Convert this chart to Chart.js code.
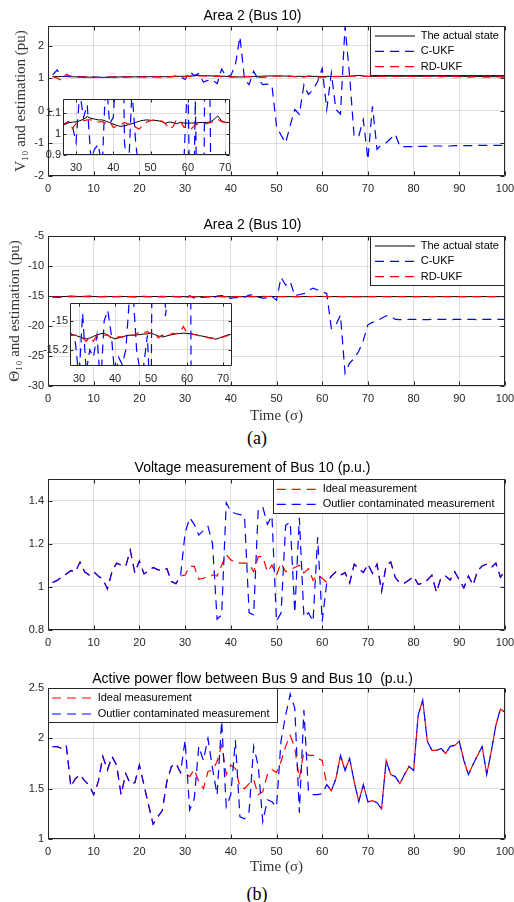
<!DOCTYPE html>
<html>
<head>
<meta charset="utf-8">
<script src="https://cdn.jsdelivr.net/npm/chart.js@4.4.1/dist/chart.umd.min.js"></script>
<style>
html, body { margin: 0; padding: 0; background: #fff; overflow: hidden; }
#page { position: relative; width: 514px; height: 902px; }
canvas { position: absolute; }
.cap { position: absolute; left: 0; width: 514px; text-align: center; font-family: "Liberation Serif", "Times New Roman", serif; font-size: 18px; line-height: 22px; color: #000; }
</style>
</head>
<body>
<div id="page">
  <canvas id="c1" width="514" height="200" style="left:0;top:0"></canvas>
  <canvas id="c2" width="514" height="226" style="left:0;top:200px"></canvas>
  <canvas id="c3" width="514" height="200" style="left:0;top:452px"></canvas>
  <canvas id="c4" width="514" height="222" style="left:0;top:655px"></canvas>
  <canvas id="i1" width="198" height="80" style="left:38px;top:95px"></canvas>
  <canvas id="i2" width="198" height="87" style="left:40px;top:299px"></canvas>
  <div class="cap" style="top:427px">(a)</div>
  <div class="cap" style="top:883px">(b)</div>
</div>
<script>
// time steps 1..100
var time = Array.from({ length: 100 }, (_, i) => i + 1);

var xTicks = [0, 10, 20, 30, 40, 50, 60, 70, 80, 90, 100];
var insetXTicks = [30, 40, 50, 60, 70];
var vTicks = [-2, -1, 0, 1, 2];
var thetaTicks = [-30, -25, -20, -15, -10, -5];
var vMeasTicks = [0.8, 1, 1.2, 1.4];
var pTicks = [1, 1.5, 2, 2.5];
var vInsetTicks = [0.9, 1, 1.1];
var thetaInsetTicks = [-15.2, -15];

// (a) top: voltage magnitude of bus 10
var vActual = [1.05, 1.05, 1.05, 1.05, 1.045, 1.04, 1.04, 1.035, 1.03, 1.03,
  1.03, 1.025, 1.03, 1.03, 1.035, 1.04, 1.04, 1.045, 1.04, 1.045,
  1.05, 1.045, 1.045, 1.04, 1.045, 1.045, 1.046, 1.054, 1.057, 1.059,
  1.064, 1.071, 1.084, 1.075, 1.072, 1.068, 1.068, 1.062, 1.055, 1.048,
  1.041, 1.037, 1.04, 1.045, 1.05, 1.056, 1.062, 1.066, 1.068, 1.066,
  1.066, 1.064, 1.06, 1.052, 1.058, 1.055, 1.05, 1.056, 1.053, 1.052,
  1.053, 1.053, 1.055, 1.056, 1.056, 1.058, 1.07, 1.087, 1.065, 1.056,
  1.056, 1.056, 1.058, 1.06, 1.062, 1.06, 1.058, 1.06, 1.062, 1.06,
  1.058, 1.056, 1.058, 1.06, 1.062, 1.06, 1.058, 1.056, 1.055, 1.054,
  1.055, 1.056, 1.054, 1.052, 1.05, 1.05, 1.048, 1.046, 1.045, 1.044];
var vCUKF = [1.1, 1.25, 1.05, 1.06, 1.05, 1.045, 1.04, 1.035, 1.03, 1.03,
  1.025, 1.03, 1.03, 1.035, 1.04, 1.045, 1.04, 1.045, 1.05, 1.045,
  1.04, 1.045, 1.05, 1.045, 1.04, 1.05, 1.05, 1.06, 1.04, 0.96,
  1.2, 1.08, 1.14, 0.88, 0.93, 0.95, 0.83, 1.28, 1.05, 1.08,
  1.4, 2.27, 0.96, 0.8, 1.21, 0.96, 0.8, 0.82, 0.78, -0.47,
  -0.75, -0.98, -0.45, 0.04, -0.11, 0.8, 0.5, 0.65, 0.9, 1.3,
  0.04, 1.16, 0.04, -0.1, 2.6, 1.06, -0.8, -0.77, -0.27, -1.5,
  0.14, -1.18, -1.03, -0.98, -0.85, -0.72, -1.1, -1.1, -1.1, -1.1,
  -1.09, -1.09, -1.09, -1.08, -1.08, -1.08, -1.08, -1.08, -1.07, -1.07,
  -1.07, -1.07, -1.07, -1.06, -1.06, -1.06, -1.06, -1.06, -1.06, -1.07];
var vRDUKF = [1.05, 1.0, 0.93, 1.12, 1.06, 1.04, 1.035, 1.03, 1.03, 1.025,
  1.02, 1.02, 1.03, 1.025, 1.03, 1.035, 1.04, 1.04, 1.045, 1.04,
  1.04, 1.035, 1.04, 1.045, 1.04, 1.04, 1.05, 1.06, 1.027, 1.05,
  1.06, 1.064, 1.068, 1.068, 1.058, 1.058, 1.06, 1.05, 1.062, 1.032,
  1.036, 1.045, 1.056, 1.048, 1.052, 1.032, 1.024, 1.045, 1.058, 1.064,
  1.068, 1.066, 1.062, 1.05, 1.024, 1.035, 1.071, 1.06, 1.032, 1.04,
  1.026, 1.045, 1.05, 1.05, 1.05, 1.055, 1.062, 1.071, 1.06, 1.056,
  1.054, 1.056, 1.06, 1.058, 1.055, 1.06, 1.062, 1.058, 1.055, 1.06,
  1.058, 1.052, 1.055, 1.058, 1.056, 1.05, 1.052, 1.055, 1.05, 1.045,
  1.04, 1.035, 1.04, 1.045, 1.04, 1.035, 1.04, 1.045, 1.04, 1.04];

// (a) bottom: voltage angle of bus 10
var thetaActual = [-15.08, -15.085, -15.09, -15.09, -15.095, -15.1, -15.1, -15.095, -15.09, -15.09,
  -15.095, -15.1, -15.105, -15.1, -15.095, -15.09, -15.09, -15.095, -15.1, -15.1,
  -15.095, -15.09, -15.09, -15.095, -15.1, -15.095, -15.09, -15.095, -15.1, -15.11,
  -15.118, -15.125, -15.12, -15.108, -15.098, -15.09, -15.086, -15.1, -15.115, -15.125,
  -15.118, -15.11, -15.105, -15.1, -15.1, -15.098, -15.095, -15.092, -15.09, -15.086,
  -15.095, -15.105, -15.112, -15.108, -15.1, -15.095, -15.09, -15.088, -15.086, -15.088,
  -15.09, -15.095, -15.1, -15.105, -15.11, -15.115, -15.12, -15.127, -15.118, -15.11,
  -15.1, -15.095, -15.095, -15.1, -15.105, -15.1, -15.095, -15.1, -15.105, -15.11,
  -15.105, -15.1, -15.1, -15.095, -15.1, -15.105, -15.1, -15.095, -15.1, -15.105,
  -15.11, -15.105, -15.1, -15.1, -15.095, -15.1, -15.105, -15.1, -15.1, -15.1];
var thetaCUKF = [-15.2, -15.25, -15.2, -15.1, -15.0, -15.05, -15.1, -15.05, -15.0, -15.05,
  -15.1, -15.1, -15.05, -15.1, -15.1, -15.05, -15.1, -15.1, -15.15, -15.1,
  -15.05, -15.1, -15.15, -15.1, -15.05, -15.1, -15.05, -15.1, -15.15, -15.4,
  -14.95, -15.35, -15.2, -15.25, -15.1, -15.45, -15.0, -14.93, -15.1, -15.4,
  -15.25, -15.3, -15.2, -14.85, -14.8, -15.2, -15.35, -15.3, -15.1, -15.7,
  -11.9, -13.2, -12.6, -14.97, -14.75, -14.6, -14.1, -13.7, -14.0, -14.3,
  -14.6, -20.4, -19.8, -18.2, -27.9, -26.2, -25.4, -24.2, -22.4, -19.8,
  -19.4, -19.1, -18.7, -18.3, -18.4, -18.9, -18.95, -18.95, -18.9, -18.9,
  -18.9, -18.95, -18.95, -18.9, -18.9, -18.9, -18.9, -18.95, -18.9, -18.9,
  -18.9, -18.9, -18.9, -18.95, -18.9, -18.9, -18.9, -18.9, -18.9, -18.9];
var thetaRDUKF = [-15.15, -15.2, -15.12, -15.09, -15.095, -15.1, -15.1, -15.095, -15.09, -15.09,
  -15.095, -15.1, -15.105, -15.1, -15.095, -15.09, -15.09, -15.095, -15.1, -15.1,
  -15.095, -15.09, -15.09, -15.095, -15.1, -15.095, -15.095, -15.1, -15.1, -15.105,
  -15.12, -15.142, -15.11, -15.14, -15.1, -15.095, -15.1, -15.098, -15.12, -15.13,
  -15.11, -15.115, -15.1, -15.098, -15.1, -15.09, -15.075, -15.08, -15.075, -15.09,
  -15.082, -15.118, -15.1, -15.105, -15.1, -15.088, -15.09, -15.085, -15.04, -15.085,
  -15.09, -15.095, -15.1, -15.108, -15.112, -15.118, -15.12, -15.125, -15.118, -15.112,
  -15.105, -15.1, -15.098, -15.1, -15.103, -15.1, -15.097, -15.1, -15.104, -15.108,
  -15.105, -15.1, -15.1, -15.097, -15.1, -15.104, -15.1, -15.097, -15.1, -15.104,
  -15.108, -15.105, -15.1, -15.1, -15.097, -15.1, -15.104, -15.1, -15.1, -15.1];

// (b) top: voltage measurement of bus 10
var vMeasIdeal = [1.02, 1.03, 1.045, 1.06, 1.075, 1.07, 1.115, 1.07, 1.055, 1.07,
  1.05, 1.035, 0.99, 1.07, 1.11, 1.1, 1.095, 1.17, 1.065, 1.12,
  1.06, 1.075, 1.09, 1.08, 1.075, 1.085, 1.025, 1.015, 1.05, 1.055,
  1.095, 1.095, 1.035, 1.04, 1.05, 1.055, 1.05, 1.1, 1.15, 1.125,
  1.115, 1.11, 1.11, 1.11, 1.07, 1.14, 1.14, 1.07, 1.1, 1.055,
  1.11, 1.07, 1.08, 1.09, 1.1, 1.065, 1.085, 1.03, 1.055, 1.04,
  1.02, 1.05, 1.07, 1.054, 1.066, 1.017, 1.105, 1.085, 1.066, 1.105,
  1.063, 1.105, 0.98, 1.1, 1.115, 1.043, 1.017, 1.017, 1.032, 1.048,
  1.012, 1.017, 1.032, 1.054, 0.975, 1.043, 1.05, 1.032, 1.07, 1.032,
  0.995, 1.05, 1.008, 1.074, 1.097, 1.105, 1.09, 1.11, 1.045, 1.074];
var vMeasOutlier = [1.02, 1.03, 1.045, 1.06, 1.075, 1.07, 1.115, 1.07, 1.055, 1.07,
  1.05, 1.035, 0.99, 1.07, 1.11, 1.1, 1.095, 1.17, 1.065, 1.12,
  1.06, 1.075, 1.09, 1.08, 1.075, 1.085, 1.025, 1.015, 1.05, 1.25,
  1.32, 1.29, 1.24, 1.26, 1.28, 1.2, 0.85, 0.87, 1.39, 1.35,
  1.34, 1.335, 1.33, 0.88, 0.87, 1.36, 1.37, 1.29, 1.33, 0.84,
  0.88, 1.285, 1.3, 0.88, 1.32, 0.86, 0.88, 0.84, 1.23, 0.84,
  1.02, 1.05, 1.07, 1.054, 1.066, 1.017, 1.105, 1.085, 1.066, 1.105,
  1.063, 1.105, 0.98, 1.1, 1.115, 1.043, 1.017, 1.017, 1.032, 1.048,
  1.012, 1.017, 1.032, 1.054, 0.975, 1.043, 1.05, 1.032, 1.07, 1.032,
  0.995, 1.05, 1.008, 1.074, 1.097, 1.105, 1.09, 1.11, 1.045, 1.074];

// (b) bottom: active power flow between bus 9 and bus 10
var pIdeal = [1.917, 1.917, 1.9, 1.93, 1.52, 1.6, 1.64, 1.58, 1.536, 1.44,
  1.57, 1.82, 1.685, 1.82, 1.735, 1.44, 1.65, 1.55, 1.56, 1.735,
  1.536, 1.34, 1.146, 1.22, 1.28, 1.57, 1.72, 1.75, 1.66, 1.65,
  1.62, 1.69, 1.57, 1.5, 1.67, 1.685, 1.77, 1.93, 1.64, 1.735,
  1.7, 1.52, 1.5, 1.55, 1.59, 1.44, 1.47, 1.64, 1.69, 1.66,
  1.77, 1.92, 2.03, 1.9, 1.6, 1.87, 1.83, 1.83, 1.8, 1.78,
  1.54, 1.48, 1.6, 1.83, 1.68, 1.8, 1.57, 1.37, 1.54, 1.37,
  1.38, 1.36, 1.3, 1.78, 1.64, 1.62, 1.55, 1.64, 1.72, 1.68,
  2.23, 2.38, 1.97, 1.88, 1.88, 1.9, 1.85, 1.92, 1.93, 1.97,
  1.78, 1.64, 1.74, 1.83, 1.92, 1.64, 1.87, 2.13, 2.29, 2.26];
var pOutlier = [1.917, 1.917, 1.9, 1.93, 1.52, 1.6, 1.64, 1.58, 1.536, 1.44,
  1.57, 1.82, 1.685, 1.82, 1.735, 1.44, 1.65, 1.55, 1.56, 1.735,
  1.536, 1.34, 1.146, 1.22, 1.28, 1.57, 1.72, 1.75, 1.66, 1.98,
  1.29, 1.4, 1.92, 1.78, 2.0, 1.7, 1.44, 2.17, 1.32, 1.44,
  1.98, 1.22, 1.2, 1.27, 1.92, 1.73, 1.17, 1.39, 1.37, 1.32,
  1.98, 2.23, 2.44, 2.3, 1.26, 2.28, 1.47, 1.44, 1.44, 1.45,
  1.54, 1.48, 1.6, 1.83, 1.68, 1.8, 1.57, 1.37, 1.54, 1.37,
  1.38, 1.36, 1.3, 1.78, 1.64, 1.62, 1.55, 1.64, 1.72, 1.68,
  2.23, 2.38, 1.97, 1.88, 1.88, 1.9, 1.85, 1.92, 1.93, 1.97,
  1.78, 1.64, 1.74, 1.83, 1.92, 1.64, 1.87, 2.13, 2.29, 2.26];

var SANS = '"Liberation Sans", Arial, sans-serif';
var SERIF = '"Liberation Serif", "Times New Roman", serif';
var AXIS = '#262626';
var GRID = 'rgba(38,38,38,0.15)';
var DASH = [9, 6];

// matlab style box with inward ticks, optional white plot background
var frame = {
    id: 'frame',
    beforeDraw: function (chart, args, o) {
        if (!o.fill) return;
        var a = chart.chartArea, ctx = chart.ctx;
        ctx.save();
        ctx.fillStyle = '#fff';
        ctx.fillRect(a.left, a.top, a.right - a.left, a.bottom - a.top);
        ctx.restore();
    },
    afterDatasetsDraw: function (chart, args, o) {
        var a = chart.chartArea, ctx = chart.ctx;
        var sx = chart.scales.x, sy = chart.scales.y;
        var L = Math.round(a.left) + 0.5, R = Math.round(a.right) - 0.5;
        var T = Math.round(a.top) + 0.5, B = Math.round(a.bottom) - 0.5;
        var len = o.tick || 4;
        ctx.save();
        ctx.setLineDash([]);
        ctx.strokeStyle = AXIS;
        ctx.lineWidth = 1;
        ctx.beginPath();
        ctx.rect(L, T, R - L, B - T);
        sx.ticks.forEach(function (t) {
            var x = Math.round(sx.getPixelForValue(t.value)) + 0.5;
            ctx.moveTo(x, B); ctx.lineTo(x, B - len);
            ctx.moveTo(x, T); ctx.lineTo(x, T + len);
        });
        sy.ticks.forEach(function (t) {
            var y = Math.round(sy.getPixelForValue(t.value)) + 0.5;
            ctx.moveTo(L, y); ctx.lineTo(L + len, y);
            ctx.moveTo(R, y); ctx.lineTo(R - len, y);
        });
        ctx.stroke();
        ctx.restore();
    }
};

// boxed legend sitting in a corner of the plot area
var boxLegend = {
    id: 'boxLegend',
    afterDraw: function (chart, args, o) {
        if (!o.width) return;
        var a = chart.chartArea, ctx = chart.ctx;
        var x0 = o.side === 'left' ? a.left : a.right - o.width;
        var y0 = a.top;
        ctx.save();
        ctx.fillStyle = '#fff';
        ctx.fillRect(x0, y0, o.width, o.height);
        ctx.strokeStyle = AXIS;
        ctx.lineWidth = 1;
        ctx.strokeRect(Math.round(x0) + 0.5, Math.round(y0) + 0.5, o.width - 1, o.height - 1);
        ctx.font = '11px ' + SANS;
        ctx.textBaseline = 'middle';
        chart.data.datasets.forEach(function (d, i) {
            var y = y0 + o.firstY + i * o.rowH;
            ctx.beginPath();
            ctx.setLineDash(d.borderDash || []);
            ctx.strokeStyle = d.borderColor;
            ctx.lineWidth = d.borderWidth;
            ctx.moveTo(x0 + o.lineX, y);
            ctx.lineTo(x0 + o.lineX + o.lineLen, y);
            ctx.stroke();
            ctx.setLineDash([]);
            ctx.fillStyle = '#000';
            ctx.fillText(d.label, x0 + o.textX, y);
        });
        ctx.restore();
    }
};

function series(label, values, color, dashed, order) {
    return {
        label: label,
        data: values,
        borderColor: color,
        borderWidth: dashed ? 1.2 : 1,
        borderDash: dashed ? DASH : [],
        pointRadius: 0,
        tension: 0,
        fill: false,
        order: order
    };
}

function fixedTicks(list) {
    return function (s) {
        s.ticks = list.map(function (v) { return { value: v }; });
    };
}

// fix axis box sizes and stop tick labels from pushing the plot area around
function fitX(h) {
    return function (s) { s.height = h; s.paddingLeft = 0; s.paddingRight = 0; };
}
function fitY(w) {
    return function (s) { s.width = w; s.paddingTop = 0; s.paddingBottom = 0; };
}

function mainChart(id, c) {
    return new Chart(document.getElementById(id), {
        type: 'line',
        data: { labels: time, datasets: c.sets },
        options: {
            responsive: false,
            animation: false,
            events: [],
            layout: { padding: { left: 0, right: 9, top: 0, bottom: 0 } },
            plugins: {
                legend: { display: false },
                tooltip: { enabled: false },
                title: {
                    display: true,
                    text: c.title,
                    color: '#000',
                    font: { family: SANS, size: 14, weight: 'normal' },
                    padding: { top: c.titleTop, bottom: c.titleBottom }
                },
                frame: { fill: false, tick: 4 },
                boxLegend: c.legend
            },
            scales: {
                x: {
                    type: 'linear',
                    min: 0,
                    max: 100,
                    afterBuildTicks: fixedTicks(xTicks),
                    afterFit: fitX(c.xHeight),
                    grid: { color: GRID, drawTicks: false },
                    border: { display: false },
                    ticks: {
                        autoSkip: false, maxRotation: 0, padding: 6, color: AXIS,
                        font: { family: SANS, size: 11 },
                        callback: function (v) { return String(v); }
                    },
                    title: c.xTitle ? {
                        display: true,
                        text: c.xTitle,
                        color: '#333',
                        font: { family: SERIF, size: 15 },
                        padding: { top: 0, bottom: 1 }
                    } : { display: false }
                },
                y: {
                    type: 'linear',
                    min: c.yMin,
                    max: c.yMax,
                    afterBuildTicks: fixedTicks(c.yTicks),
                    afterFit: fitY(48),
                    grid: { color: GRID, drawTicks: false },
                    border: { display: false },
                    ticks: {
                        autoSkip: false, padding: 4, color: AXIS,
                        font: { family: SANS, size: 11 },
                        callback: function (v) { return String(v); }
                    },
                    title: c.yTitle ? {
                        display: true,
                        text: c.yTitle,
                        color: '#333',
                        font: { family: SERIF, size: 15 },
                        padding: { top: c.yTitlePad, bottom: 0 }
                    } : { display: false }
                }
            }
        },
        plugins: [frame, boxLegend]
    });
}

function insetChart(id, c) {
    return new Chart(document.getElementById(id), {
        type: 'line',
        data: { labels: time, datasets: c.sets },
        options: {
            responsive: false,
            animation: false,
            events: [],
            layout: { padding: { left: 0, right: 6, top: 4, bottom: 0 } },
            plugins: {
                legend: { display: false },
                tooltip: { enabled: false },
                title: { display: false },
                frame: { fill: true, tick: 3 },
                boxLegend: {}
            },
            scales: {
                x: {
                    type: 'linear',
                    min: c.xMin,
                    max: c.xMax,
                    afterBuildTicks: fixedTicks(insetXTicks),
                    afterFit: fitX(20),
                    grid: { color: GRID, drawTicks: false },
                    border: { display: false },
                    ticks: {
                        autoSkip: false, maxRotation: 0, padding: 6, color: AXIS,
                        font: { family: SANS, size: 11 },
                        callback: function (v) { return String(v); }
                    }
                },
                y: {
                    type: 'linear',
                    min: c.yMin,
                    max: c.yMax,
                    afterBuildTicks: fixedTicks(c.yTicks),
                    afterFit: fitY(c.yWidth),
                    grid: { color: GRID, drawTicks: false },
                    border: { display: false },
                    ticks: {
                        autoSkip: false, padding: 2, color: AXIS,
                        font: { family: SANS, size: 11 },
                        callback: function (v) { return String(v); }
                    }
                }
            }
        },
        plugins: [frame, boxLegend]
    });
}

var stateLegend = { side: 'right', width: 135, height: 50, firstY: 10, rowH: 15.3, lineX: 5, lineLen: 40, textX: 50.7 };

function vSets() {
    return [
        series('The actual state', vActual, '#000000', false, 2),
        series('C-UKF', vCUKF, '#0000ff', true, 1),
        series('RD-UKF', vRDUKF, '#ff0000', true, 0)
    ];
}

function thetaSets() {
    return [
        series('The actual state', thetaActual, '#000000', false, 2),
        series('C-UKF', thetaCUKF, '#0000ff', true, 1),
        series('RD-UKF', thetaRDUKF, '#ff0000', true, 0)
    ];
}

function run() {
    mainChart('c1', {
        title: 'Area 2 (Bus 10)', titleTop: 7.6, titleBottom: 1.6,
        sets: vSets(), yMin: -2, yMax: 2.6, yTicks: vTicks,
        yTitle: 'V\u2081\u2080 and estimation (pu)', yTitlePad: 12,
        xHeight: 24, legend: stateLegend
    });
    mainChart('c2', {
        title: 'Area 2 (Bus 10)', titleTop: 16.6, titleBottom: 2.6,
        sets: thetaSets(), yMin: -30, yMax: -5, yTicks: thetaTicks,
        yTitle: '\u0398\u2081\u2080 and estimation (pu)', yTitlePad: 6,
        xHeight: 40, xTitle: 'Time (\u03c3)', legend: stateLegend
    });
    mainChart('c3', {
        title: 'Voltage measurement of Bus 10 (p.u.)', titleTop: 7.6, titleBottom: 2.6,
        sets: [
            series('Ideal measurement', vMeasIdeal, '#ff0000', true, 1),
            series('Outlier contaminated measurement', vMeasOutlier, '#0000ff', true, 0)
        ],
        yMin: 0.8, yMax: 1.5, yTicks: vMeasTicks,
        xHeight: 22,
        legend: { side: 'right', width: 232, height: 35, firstY: 10.3, rowH: 15, lineX: 3.7, lineLen: 43, textX: 49.7 }
    });
    mainChart('c4', {
        title: 'Active power flow between Bus 9 and Bus 10  (p.u.)', titleTop: 15.6, titleBottom: 0.6,
        sets: [
            series('Ideal measurement', pIdeal, '#ff0000', true, 1),
            series('Outlier contaminated measurement', pOutlier, '#0000ff', true, 0)
        ],
        yMin: 1, yMax: 2.5, yTicks: pTicks,
        xHeight: 38, xTitle: 'Time (\u03c3)',
        legend: { side: 'left', width: 230, height: 35, firstY: 10, rowH: 16, lineX: 4, lineLen: 43, textX: 49.7 }
    });
    insetChart('i1', {
        sets: vSets(), xMin: 26.5, xMax: 71.3,
        yMin: 0.9, yMax: 1.168, yTicks: vInsetTicks, yWidth: 25
    });
    insetChart('i2', {
        sets: thetaSets(), xMin: 27.5, xMax: 72.5,
        yMin: -15.31, yMax: -14.88, yTicks: thetaInsetTicks, yWidth: 30
    });
}

window.onload = run;
</script>
</body>
</html>
